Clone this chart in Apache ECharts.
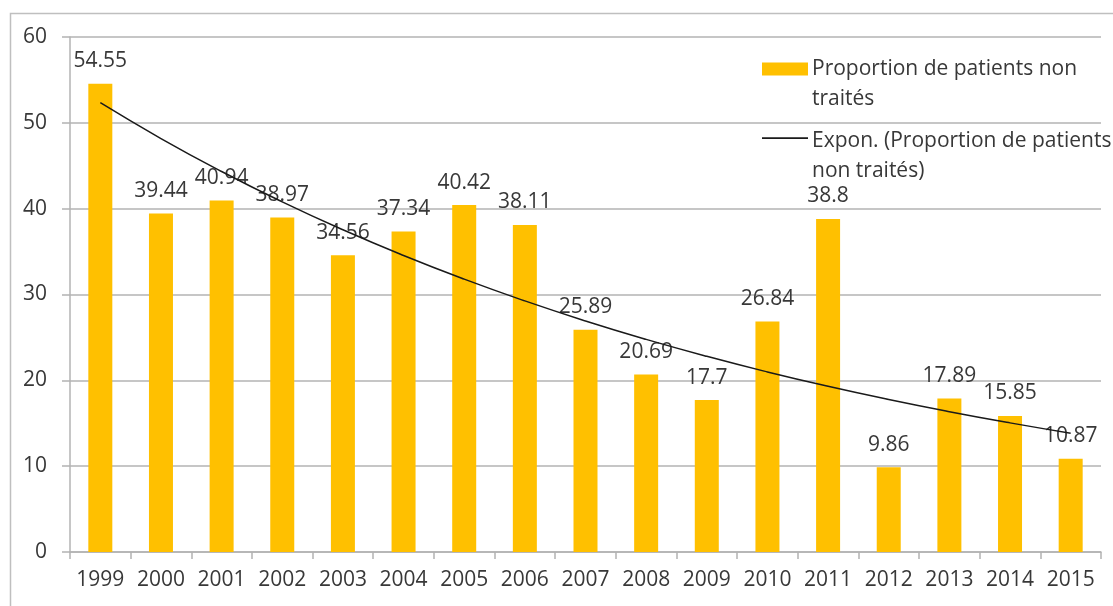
<!DOCTYPE html>
<html>
<head>
<meta charset="utf-8">
<script src="https://cdn.jsdelivr.net/npm/echarts@6/dist/echarts.min.js"></script>
<style>
    html, body { margin: 0; padding: 0; background: #fff; }
    #chart { width: 1113px; height: 606px; }
</style>
</head>
<body>
<div id="chart"></div>
<script>
// données
var years = ['1999', '2000', '2001', '2002', '2003', '2004', '2005', '2006', '2007',
    '2008', '2009', '2010', '2011', '2012', '2013', '2014', '2015'];
var proportion = [54.55, 39.44, 40.94, 38.97, 34.56, 37.34, 40.42, 38.11, 25.89,
    20.69, 17.7, 26.84, 38.8, 9.86, 17.89, 15.85, 10.87];
var yTicks = [0, 10, 20, 30, 40, 50, 60];

// courbe de tendance exponentielle (comme Excel : régression sur ln(y))
function exponTrend(values) {
    var n = values.length;
    var mx = 0, my = 0;
    values.forEach(function (v, i) { mx += i; my += Math.log(v); });
    mx /= n; my /= n;
    var sxy = 0, sxx = 0;
    values.forEach(function (v, i) {
        sxy += (i - mx) * (Math.log(v) - my);
        sxx += (i - mx) * (i - mx);
    });
    var b = sxy / sxx;
    var a = my - b * mx;
    return values.map(function (v, i) { return Math.exp(a + b * i); });
}
var trend = exponTrend(proportion);

var font = '"Open Sans", "Liberation Sans", sans-serif';
var textColor = '#383838';
var gridColor = '#b3b3b3';

var myChart = echarts.init(document.getElementById('chart'));
var option = {
    backgroundColor: '#fff',
    animation: false,
    textStyle: { fontFamily: font },
    graphic: [
        {
            type: 'rect',
            left: 8,
            top: 11,
            shape: { width: 1300, height: 800 },
            style: { fill: 'none', stroke: '#bfbfbf', lineWidth: 1.5 },
            silent: true
        }
    ],
    grid: {
        left: 70,
        right: 12,
        top: 37,
        bottom: 54
    },
    legend: {
        orient: 'vertical',
        left: 757,
        top: 49,
        itemGap: 12,
        itemWidth: 46,
        itemHeight: 43,
        textStyle: {
            fontFamily: font,
            fontSize: 21,
            color: textColor,
            lineHeight: 30,
            padding: [0, 0, 0, -1]
        },
        data: [
            {
                name: 'Proportion de patients non traités',
                icon: 'path://M0,0h46v13h-46z M0,43h0.01v0.01h-0.01z'
            },
            {
                name: 'Expon. (Proportion de patients non traités)',
                icon: 'path://M0,5.5h46v1.8h-46z M0,43h0.01v0.01h-0.01z'
            }
        ],
        formatter: function (name) {
            if (name.indexOf('Expon') === 0) {
                return 'Expon. (Proportion de patients\nnon traités)';
            }
            return 'Proportion de patients non\ntraités';
        }
    },
    xAxis: {
        type: 'category',
        data: years,
        axisLine: { lineStyle: { color: gridColor, width: 1.5 } },
        axisTick: { show: true, length: 7, lineStyle: { color: gridColor, width: 1.5 } },
        axisLabel: {
            interval: 0,
            color: textColor,
            fontSize: 21,
            fontFamily: font,
            margin: 18
        }
    },
    yAxis: {
        type: 'value',
        min: yTicks[0],
        max: yTicks[yTicks.length - 1],
        interval: 10,
        axisLine: { show: true, lineStyle: { color: gridColor, width: 1.5 } },
        axisTick: { show: true, length: 8, lineStyle: { color: gridColor, width: 1.5 } },
        splitLine: { lineStyle: { color: gridColor, width: 1.5 } },
        axisLabel: {
            color: textColor,
            fontSize: 21,
            fontFamily: font,
            margin: 23
        }
    },
    series: [
        {
            name: 'Proportion de patients non traités',
            type: 'bar',
            data: proportion,
            barWidth: 24,
            itemStyle: { color: '#FFC000' },
            label: {
                show: true,
                position: 'top',
                distance: 12,
                color: textColor,
                fontSize: 21,
                fontFamily: font
            },
            z: 2
        },
        {
            name: 'Expon. (Proportion de patients non traités)',
            type: 'line',
            data: trend,
            smooth: true,
            showSymbol: false,
            symbol: 'none',
            itemStyle: { color: '#1a1a1a' },
            lineStyle: { color: '#1a1a1a', width: 1.5 },
            z: 3
        }
    ]
};
myChart.setOption(option);
</script>
</body>
</html>
